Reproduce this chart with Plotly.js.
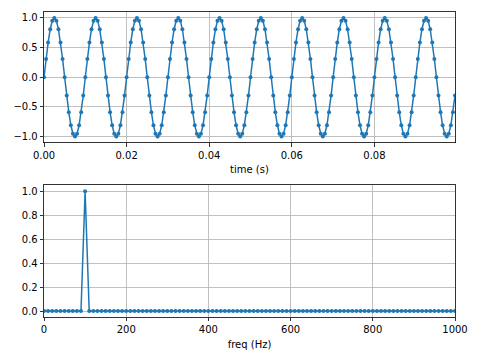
<!DOCTYPE html>
<html>
<head>
<meta charset="utf-8">
<script src="https://cdn.plot.ly/plotly-3.0.1.min.js"></script>
<style>html,body{margin:0;padding:0;background:#fff}#chart{width:480px;height:360px}</style>
</head>
<body>
<div id="chart"></div>
<script>
// Time-domain samples (fs = 2000 Hz, 100 Hz sine, 200 samples)
const sampleStep = 0.0005;
const signalValues = [
0,0.309,0.588,0.809,0.951,1,0.951,0.809,0.588,0.309,0,-0.309,-0.588,-0.809,-0.951,-1,-0.951,-0.809,-0.588,-0.309,
0,0.309,0.588,0.809,0.951,1,0.951,0.809,0.588,0.309,0,-0.309,-0.588,-0.809,-0.951,-1,-0.951,-0.809,-0.588,-0.309,
0,0.309,0.588,0.809,0.951,1,0.951,0.809,0.588,0.309,0,-0.309,-0.588,-0.809,-0.951,-1,-0.951,-0.809,-0.588,-0.309,
0,0.309,0.588,0.809,0.951,1,0.951,0.809,0.588,0.309,0,-0.309,-0.588,-0.809,-0.951,-1,-0.951,-0.809,-0.588,-0.309,
0,0.309,0.588,0.809,0.951,1,0.951,0.809,0.588,0.309,0,-0.309,-0.588,-0.809,-0.951,-1,-0.951,-0.809,-0.588,-0.309,
0,0.309,0.588,0.809,0.951,1,0.951,0.809,0.588,0.309,0,-0.309,-0.588,-0.809,-0.951,-1,-0.951,-0.809,-0.588,-0.309,
0,0.309,0.588,0.809,0.951,1,0.951,0.809,0.588,0.309,0,-0.309,-0.588,-0.809,-0.951,-1,-0.951,-0.809,-0.588,-0.309,
0,0.309,0.588,0.809,0.951,1,0.951,0.809,0.588,0.309,0,-0.309,-0.588,-0.809,-0.951,-1,-0.951,-0.809,-0.588,-0.309,
0,0.309,0.588,0.809,0.951,1,0.951,0.809,0.588,0.309,0,-0.309,-0.588,-0.809,-0.951,-1,-0.951,-0.809,-0.588,-0.309,
0,0.309,0.588,0.809,0.951,1,0.951,0.809,0.588,0.309,0,-0.309,-0.588,-0.809,-0.951,-1,-0.951,-0.809,-0.588,-0.309
];
// Spectrum (10 Hz bins, 0..1000 Hz, 101 bins)
const freqStep = 10;
const spectrumValues = [
0,0,0,0,0,0,0,0,0,0,1,0,0,0,0,0,0,0,0,0,
0,0,0,0,0,0,0,0,0,0,0,0,0,0,0,0,0,0,0,0,
0,0,0,0,0,0,0,0,0,0,0,0,0,0,0,0,0,0,0,0,
0,0,0,0,0,0,0,0,0,0,0,0,0,0,0,0,0,0,0,0,
0,0,0,0,0,0,0,0,0,0,0,0,0,0,0,0,0,0,0,0,
0
];
const timeTicks = [0, 0.02, 0.04, 0.06, 0.08];
const ampTicks = [-1, -0.5, 0, 0.5, 1];
const freqTicks = [0, 200, 400, 600, 800, 1000];
const magTicks = [0, 0.2, 0.4, 0.6, 0.8, 1.0];

const blue = '#1f77b4';
const font = {family: 'DejaVu Sans', size: 10, color: '#000'};
const axisBase = {
  showline: true, mirror: true, linecolor: '#000', linewidth: 0.8,
  ticks: 'outside', ticklen: 3.5, tickwidth: 0.8, tickcolor: '#000',
  showgrid: true, gridcolor: '#b0b0b0', gridwidth: 0.8, zeroline: false,
  tickfont: font, tickmode: 'array'
};

const traces = [
  {x0: 0, dx: sampleStep, y: signalValues, type: 'scatter', mode: 'lines+markers',
   line: {color: blue, width: 1.5}, marker: {color: blue, size: 4}, xaxis: 'x', yaxis: 'y', hoverinfo: 'none'},
  {x0: 0, dx: freqStep, y: spectrumValues, type: 'scatter', mode: 'lines+markers',
   line: {color: blue, width: 1.5}, marker: {color: blue, size: 4}, xaxis: 'x2', yaxis: 'y2', hoverinfo: 'none'}
];

const layout = {
  width: 480, height: 360,
  margin: {l: 43.5, r: 24.5, t: 12, b: 43},
  paper_bgcolor: '#fff', plot_bgcolor: '#fff',
  showlegend: false,
  font: font,
  xaxis: Object.assign({}, axisBase, {domain: [0, 1], anchor: 'y', range: [0, 0.0995],
    tickvals: timeTicks, tickformat: '.2f',
    title: {text: 'time (s)', font: font, standoff: 6}}),
  yaxis: Object.assign({}, axisBase, {domain: [0.572, 1], anchor: 'x', range: [-1.1, 1.1],
    tickvals: ampTicks, tickformat: '.1f'}),
  xaxis2: Object.assign({}, axisBase, {domain: [0, 1], anchor: 'y2', range: [0, 1000],
    tickvals: freqTicks, tickformat: 'd',
    title: {text: 'freq (Hz)', font: font, standoff: 6}}),
  yaxis2: Object.assign({}, axisBase, {domain: [0, 0.432], anchor: 'x2', range: [-0.05, 1.05],
    tickvals: magTicks, tickformat: '.1f'})
};

Plotly.newPlot('chart', traces, layout, {staticPlot: true, displayModeBar: false});
</script>
</body>
</html>
